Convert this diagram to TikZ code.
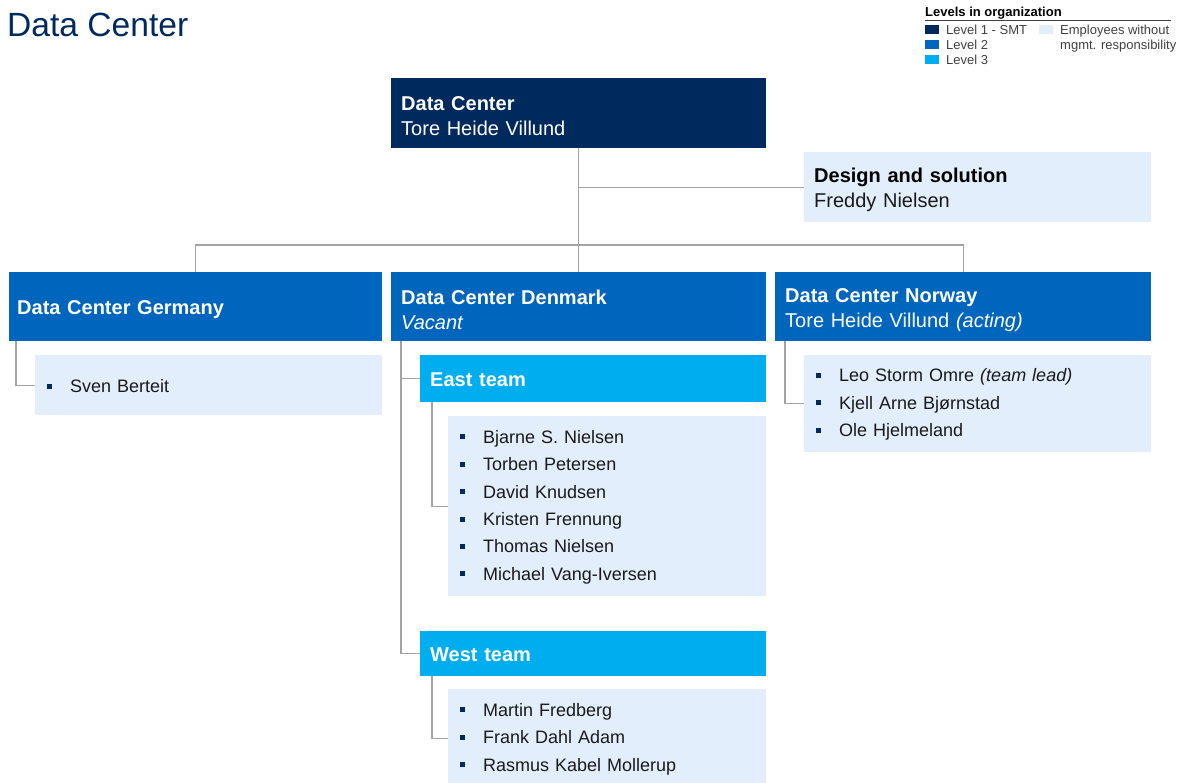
\documentclass[tikz,border=0pt]{standalone}
\usepackage{fontspec}
\setmainfont{Liberation Sans}
\definecolor{lvlone}{HTML}{002A5E}
\definecolor{lvltwo}{HTML}{0065BD}
\definecolor{lvlthree}{HTML}{00AEEF}
\definecolor{lightbox}{HTML}{E2EEFB}
\definecolor{conngray}{HTML}{A3A3A3}
\definecolor{darktext}{HTML}{1A1A1A}
\definecolor{legtext}{HTML}{404040}
\newcommand{\bul}{\makebox[23pt][l]{\textcolor{lvlone}{\rule[4pt]{5pt}{5pt}}}}
\tikzset{
  box/.style={rectangle, anchor=north west, inner xsep=10pt, inner ysep=0pt, align=left,
    text height=20pt, font=\fontsize{20}{25}\selectfont},
  lvlonebox/.style={box, fill=lvlone, text=white},
  lvltwobox/.style={box, fill=lvltwo, text=white},
  lvlthreebox/.style={box, fill=lvlthree, text=white, text height=16.5pt},
  lightnode/.style={box, fill=lightbox, text=darktext},
  listbox/.style={rectangle, anchor=north west, inner xsep=12pt, inner ysep=0pt, align=left,
    text height=15pt, fill=lightbox, text=darktext, font=\fontsize{18}{27.4}\selectfont},
  conn/.style={draw=conngray, line width=1.4pt},
  legsq/.style={rectangle, anchor=north west, inner sep=0pt, minimum width=14pt, minimum height=9pt},
  legtxt/.style={anchor=base west, inner sep=0pt, text=legtext, font=\fontsize{13}{15}\selectfont},
}
\begin{document}
\begin{tikzpicture}[x=1pt,y=-1pt]
\useasboundingbox (0,0) rectangle (1181,782);

% title
\node[anchor=base west, inner sep=0pt, text=lvlone, font=\fontsize{33.6}{38}\selectfont] (title) at (7,36) {Data Center};

% legend
\node[anchor=base west, inner sep=0pt, font=\bfseries\fontsize{13}{15}\selectfont] (leghead) at (925,16) {Levels in organization};
\coordinate (legl) at (925,20);
\coordinate (legr) at (1171,20);
\draw[draw=legtext, line width=0.8pt] (legl) -- (legr);
\node[legsq, fill=lvlone] (sqone) at (925,25) {};
\node[legsq, fill=lvltwo] (sqtwo) at (925,40) {};
\node[legsq, fill=lvlthree] (sqthree) at (925,55) {};
\node[legsq, fill=lightbox] (sqfour) at (1039,25) {};
\node[legtxt] (lone) at (946,34) {Level 1 - SMT};
\node[legtxt] (ltwo) at (946,49) {Level 2};
\node[legtxt] (lthree) at (946,64) {Level 3};
\node[legtxt] (lfour) at (1060,34) {Employees without};
\node[legtxt] (lfive) at (1060,49) {mgmt. responsibility};

% boxes
\node[lvlonebox, text width=355pt, minimum height=70pt] (top) at (391,78)
  {\textbf{Data Center}\\Tore Heide Villund};
\node[lightnode, text width=327pt, minimum height=70pt] (design) at (804,152)
  {\textcolor{black}{\textbf{Design and solution}}\\Freddy Nielsen};
\node[lvltwobox, inner xsep=8pt, text width=357pt, minimum height=69pt] (ger) at (9,272)
  {\textbf{Data Center Germany}};
\node[lvltwobox, text width=355pt, minimum height=69pt] (den) at (391,272)
  {\textbf{Data Center Denmark}\\\textit{Vacant}};
\node[lvltwobox, text width=356pt, minimum height=69pt] (nor) at (775,272)
  {\textbf{Data Center Norway}\\Tore Heide Villund \textit{(acting)}};

\node[listbox, text width=323pt, minimum height=60pt] (sven) at (35,355)
  {\bul Sven Berteit};

\node[lvlthreebox, text width=326pt, minimum height=47pt] (east) at (420,355)
  {\textbf{East team}};
\node[listbox, text width=294pt, minimum height=180pt] (eastl) at (448,416)
  {\bul Bjarne S. Nielsen\\\bul Torben Petersen\\\bul David Knudsen\\\bul Kristen Frennung\\\bul Thomas Nielsen\\\bul Michael Vang-Iversen};

\node[lvlthreebox, text width=326pt, minimum height=45pt] (west) at (420,631)
  {\textbf{West team}};
\node[listbox, text width=294pt, minimum height=98pt] (westl) at (448,689)
  {\bul Martin Fredberg\\\bul Frank Dahl Adam\\\bul Rasmus Kabel Mollerup};

\node[listbox, text width=323pt, minimum height=97pt] (norl) at (804,355)
  {\bul Leo Storm Omre \textit{(team lead)}\\\bul Kjell Arne Bjørnstad\\\bul Ole Hjelmeland};

% connectors
\draw[conn] (top.south) -- (den.north);
\draw[conn] (top.south |- design.west) -- (design.west);
\draw[conn] (ger.north) -- ++(0,-27) -| (nor.north);
\draw[conn] ([xshift=7pt]ger.south west) |- (sven.west);
\draw[conn] ([xshift=10pt]den.south west) |- (east.west);
\draw[conn] ([xshift=10pt]den.south west) |- (west.west);
\draw[conn] ([xshift=12pt]east.south west) |- (eastl.west);
\draw[conn] ([xshift=12pt]west.south west) |- (westl.west);
\draw[conn] ([xshift=10pt]nor.south west) |- (norl.west);
\end{tikzpicture}
\end{document}
